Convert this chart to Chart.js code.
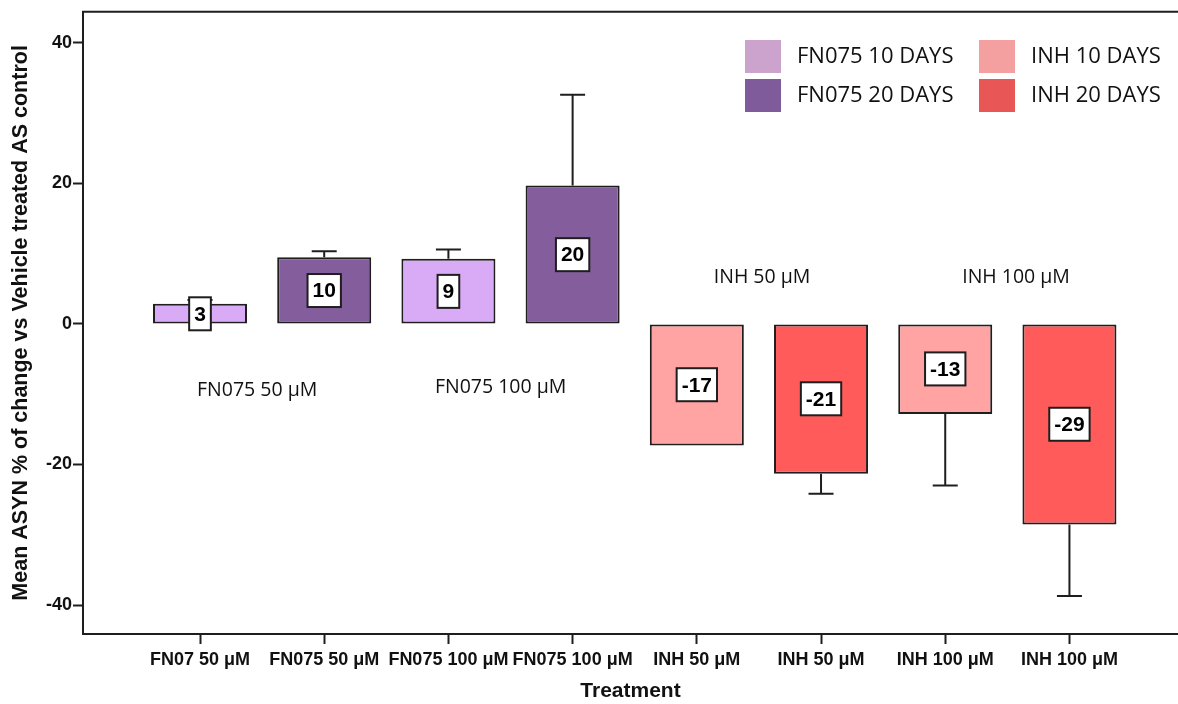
<!DOCTYPE html>
<html>
<head>
<meta charset="utf-8">
<script src="https://cdn.jsdelivr.net/npm/chart.js@4/dist/chart.umd.min.js"></script>
<style>
  html, body { margin: 0; padding: 0; background: #ffffff; }
  #wrap { width: 1178px; height: 704px; }
</style>
</head>
<body>
<div id="wrap"><canvas id="c" width="1178" height="704"></canvas></div>
<script>
// ---------------- DATA ----------------
const categories = ['FN07 50 μM', 'FN075 50 μM', 'FN075 100 μM', 'FN075 100 μM',
                    'INH 50 μM', 'INH 50 μM', 'INH 100 μM', 'INH 100 μM'];
const seriesNames = ['FN075 10 DAYS', 'FN075 20 DAYS', 'INH 10 DAYS', 'INH 20 DAYS'];
const seriesOfBar = [0, 1, 0, 1, 2, 3, 2, 3];
const values = [2.88, 9.5, 9.26, 19.7, -17.3, -21.3, -12.8, -28.55];
const errorEnds = [3.4, 10.35, 10.6, 32.6, null, -24.15, -23.0, -38.7];
const valueLabels = ['3', '10', '9', '20', '-17', '-21', '-13', '-29'];
const yTicks = [-40, -20, 0, 20, 40];
const groupLabels = ['FN075 50 μM', 'FN075 100 μM', 'INH 50 μM', 'INH 100 μM'];
const groupLabelAnchorX = [0.46, 2.42, 4.525, 6.57];
const groupLabelAnchorY = [-9.4, -9.0, 6.62, 6.62];
const xTitle = 'Treatment';
const yTitle = 'Mean ASYN % of change vs Vehicle treated AS control';

// ---------------- STYLE ----------------
const barColors = ['#d9aaf5', '#845e9c', '#ffa3a3', '#ff5b5b'];
const legendColors = ['#cba3cd', '#7f5b9b', '#f4a0a0', '#e85656'];
const ink = '#1e1e1e';
const ARIAL = "'Liberation Sans', Arial, sans-serif";
const MYRIAD = "'Open Sans', 'Noto Sans', sans-serif";

const datasets = seriesNames.map((name, s) => ({
  label: name,
  data: values.map((v, i) => ({ x: i, y: v })).filter((p, i) => seriesOfBar[i] === s),
  backgroundColor: barColors[s],
  borderColor: ink,
  borderWidth: 2,
  borderSkipped: false,
  grouped: false,
  categoryPercentage: 1,
  barPercentage: 0.757
}));

const overlay = {
  id: 'overlay',
  afterDatasetsDraw(chart) {
    const { ctx, scales: { x, y } } = chart;
    ctx.save();
    // error bars
    ctx.strokeStyle = ink;
    ctx.lineWidth = 2;
    values.forEach((v, i) => {
      const e = errorEnds[i];
      if (e === null) return;
      const px = x.getPixelForValue(i);
      const p0 = y.getPixelForValue(v);
      const p1 = y.getPixelForValue(e);
      ctx.beginPath();
      ctx.moveTo(px, p0);
      ctx.lineTo(px, p1);
      ctx.moveTo(px - 12.5, p1);
      ctx.lineTo(px + 12.5, p1);
      ctx.stroke();
    });
    // value labels in boxes
    ctx.font = 'bold 21px ' + ARIAL;
    ctx.textAlign = 'center';
    ctx.textBaseline = 'middle';
    values.forEach((v, i) => {
      const px = x.getPixelForValue(i);
      const py = y.getPixelForValue(v / 2);
      const w = ctx.measureText(valueLabels[i]).width + 10;
      const h = 33;
      ctx.fillStyle = '#ffffff';
      ctx.fillRect(px - w / 2, py - h / 2, w, h);
      ctx.lineWidth = 2;
      ctx.strokeStyle = ink;
      ctx.strokeRect(px - w / 2, py - h / 2, w, h);
      ctx.fillStyle = '#000';
      ctx.fillText(valueLabels[i], px, py + 1);
    });
    ctx.restore();
  },
  afterDraw(chart) {
    const { ctx, chartArea, scales: { x, y } } = chart;
    ctx.save();
    // top frame line
    ctx.strokeStyle = ink;
    ctx.lineWidth = 2;
    ctx.beginPath();
    ctx.moveTo(chartArea.left - 1, chartArea.top);
    ctx.lineTo(chartArea.right + 2, chartArea.top);
    ctx.stroke();
    // group annotations
    ctx.font = '19.5px ' + MYRIAD;
    ctx.fillStyle = '#111';
    ctx.textAlign = 'center';
    ctx.textBaseline = 'middle';
    groupLabels.forEach((t, k) => {
      ctx.fillText(t, x.getPixelForValue(groupLabelAnchorX[k]), y.getPixelForValue(groupLabelAnchorY[k]));
    });
    // legend (2 x 2)
    const colX = [745, 979];
    const rowY = [40, 79];
    ctx.font = '22px ' + MYRIAD;
    ctx.textAlign = 'left';
    seriesNames.forEach((name, s) => {
      const cx = colX[Math.floor(s / 2)];
      const cy = rowY[s % 2];
      ctx.fillStyle = legendColors[s];
      ctx.fillRect(cx, cy, 36, 33);
      ctx.fillStyle = '#111';
      ctx.fillText(name, cx + 52, cy + 17);
    });
    ctx.restore();
  }
};

new Chart(document.getElementById('c'), {
  type: 'bar',
  data: { datasets },
  plugins: [overlay],
  options: {
    responsive: false,
    animation: false,
    layout: { padding: { top: 10, right: 0, left: 0, bottom: 0 } },
    plugins: { legend: { display: false }, tooltip: { enabled: false } },
    scales: {
      x: {
        type: 'linear',
        offset: false,
        min: -0.942,
        max: 7.874,
        afterBuildTicks: (s) => { s.ticks = categories.map((c, i) => ({ value: i })); },
        afterFit: (s) => { s.height = 70; },
        grid: { display: true, drawOnChartArea: false, offset: false, tickLength: 10, tickWidth: 2, tickColor: ink },
        border: { display: true, color: ink, width: 2 },
        ticks: {
          autoSkip: false, maxRotation: 0, minRotation: 0, padding: 5,
          color: '#111',
          font: { family: ARIAL, size: 18, weight: 'bold' },
          callback: (v) => categories[v]
        },
        title: {
          display: true, text: xTitle, color: '#111',
          font: { family: ARIAL, size: 21, weight: 'bold' },
          padding: { top: 0, bottom: 0 }
        }
      },
      y: {
        min: -44.11,
        max: 44.40,
        afterBuildTicks: (s) => { s.ticks = yTicks.map(v => ({ value: v })); },
        afterFit: (s) => { s.width = 83; },
        grid: { display: true, drawOnChartArea: false, tickLength: 10, tickWidth: 2, tickColor: ink },
        border: { display: true, color: ink, width: 2 },
        ticks: {
          padding: 1, color: '#111',
          font: { family: ARIAL, size: 18, weight: 'bold' }
        },
        title: {
          display: true, text: yTitle, color: '#111',
          font: { family: ARIAL, size: 21.5, weight: 'bold' },
          padding: { top: 8, bottom: 0 }
        }
      }
    }
  }
});
</script>
</body>
</html>
